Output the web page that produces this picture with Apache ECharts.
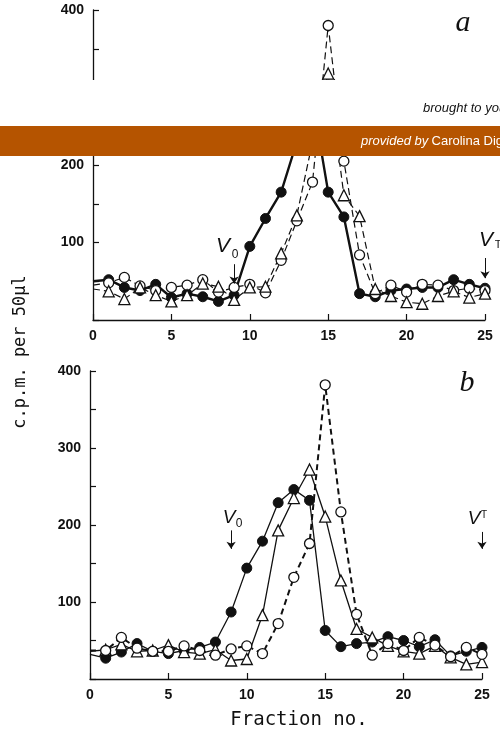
<!DOCTYPE html>
<html>
<head>
<meta charset="utf-8">
<script src="https://cdn.jsdelivr.net/npm/echarts@6/dist/echarts.min.js"></script>
<style>
html, body { margin: 0; padding: 0; background: #fff; }
#main { width: 500px; height: 731px; }
</style>
</head>
<body>
<div id="main"></div>
<script>
// fraction numbers (0 = line start at the axis, no marker)
var fractions = [0,1,2,3,4,5,6,7,8,9,10,11,12,13,14,15,16,17,18,19,20,21,22,23,24,25];

// panel a
var aFilled = [50,52,42,38,46,29,34,30,24,32,95,131,165,230,285,165,133,34,30,38,40,42,42,52,46,41];
var aOpen   = [45,48,55,44,38,42,45,52,36,42,46,35,77,128,178,380,205,84,34,45,36,46,45,38,41,38];
var aTri    = [40,37,27,42,32,24,32,47,43,26,42,43,86,135,230,318,161,134,40,31,23,21,31,37,29,34];

// panel b
var bFilled = [32,27,35,46,36,33,37,41,48,87,144,179,229,246,232,63,42,46,48,55,50,42,51,30,36,41];
var bOpen   = [37,37,54,40,36,36,43,37,31,39,43,33,72,132,176,382,217,84,31,46,37,54,44,29,41,32];
var bTri    = [36,38,45,36,37,44,35,33,38,24,26,83,193,235,272,211,128,65,54,43,36,33,43,28,19,22];

var yTicks = [100,200,300,400];

var ink = '#111';
var chart = echarts.init(document.getElementById('main'), null, { renderer: 'canvas' });

function pts(vals) {
  return vals.map(function (v, i) {
    var d = { value: [fractions[i], v] };
    if (i === 0) d.symbol = 'none';
    return d;
  });
}

function line(vals, gi, kind, lw, dash) {
  var s = {
    type: 'line',
    xAxisIndex: gi, yAxisIndex: gi,
    data: pts(vals),
    symbol: kind === 'tri' ? 'triangle' : 'circle',
    symbolSize: kind === 'tri' ? 11 : 10,
    showAllSymbol: true,
    animation: false,
    lineStyle: { color: ink, width: lw, type: dash ? dash : 'solid' },
    itemStyle: kind === 'filled'
      ? { color: ink, borderColor: ink, borderWidth: 1 }
      : { color: '#fff', borderColor: ink, borderWidth: 1.3 },
    emphasis: { disabled: true },
    z: kind === 'filled' ? 3 : 4
  };
  return s;
}

function xAx(gi) {
  return {
    type: 'value', gridIndex: gi, min: 0, max: 25, interval: 5,
    axisLine: { lineStyle: { color: ink, width: 1.3 } },
    axisTick: { inside: true, length: 6, lineStyle: { color: ink, width: 1.2 } },
    splitLine: { show: false },
    axisLabel: { color: ink, fontSize: 14, fontWeight: 'bold', fontFamily: 'Liberation Sans', margin: 9 }
  };
}
function yAx(gi) {
  return {
    type: 'value', gridIndex: gi, min: 0, max: 400, interval: 50,
    axisLine: { show: true, lineStyle: { color: ink, width: 1.3 } },
    axisTick: { inside: true, length: 6, lineStyle: { color: ink, width: 1.2 } },
    splitLine: { show: false },
    axisLabel: {
      color: ink, fontSize: 14, fontWeight: 'bold', fontFamily: 'Liberation Sans', margin: 9,
      formatter: function (v) { return yTicks.indexOf(v) >= 0 ? String(v) : ''; }
    }
  };
}

// V0 / VT arrows
function arrows(gi, v0, vt) {
  return {
    silent: true, symbol: ['none', 'arrow'], symbolSize: 7,
    lineStyle: { color: ink, width: 1, type: 'solid' },
    label: { show: false },
    animation: false,
    data: [
      [{ coord: [9, v0[0]] }, { coord: [9, v0[1]] }],
      [{ coord: [25, vt[0]] }, { coord: [25, vt[1]] }]
    ]
  };
}

var sA1 = line(aFilled, 0, 'filled', 2.4);
sA1.markLine = arrows(0, [72, 47], [80, 54]);
var sB1 = line(bFilled, 1, 'filled', 1.3);
sB1.markLine = arrows(1, [193, 169], [191, 169]);

chart.setOption({
  backgroundColor: '#fff',
  animation: false,
  grid: [
    { left: 93, right: 15, top: 10, bottom: 411 },
    { left: 90, right: 18, top: 371, bottom: 52 }
  ],
  xAxis: [xAx(0), xAx(1)],
  yAxis: [yAx(0), yAx(1)],
  series: [
    sA1,
    line(aOpen, 0, 'open', 1.2, [7, 4]),
    line(aTri, 0, 'tri', 1.2, [7, 4]),
    sB1,
    line(bTri, 1, 'tri', 1.3),
    line(bOpen, 1, 'open', 2, [6, 4])
  ]
});

// annotation text placed from the axes
var pa0 = chart.convertToPixel({ gridIndex: 0 }, [9, 72]);
var paT = chart.convertToPixel({ gridIndex: 0 }, [25, 80]);
var pb0 = chart.convertToPixel({ gridIndex: 1 }, [9, 193]);
var pbT = chart.convertToPixel({ gridIndex: 1 }, [25, 191]);

function txt(x, y, s, font, extra) {
  var st = { x: x, y: y, text: s, font: font, fill: ink, align: 'center', verticalAlign: 'middle' };
  if (extra) for (var k in extra) st[k] = extra[k];
  return { type: 'text', silent: true, style: st, z: 10 };
}

chart.setOption({
  graphic: [
    // panel letters
    txt(463, 23, 'a', 'italic 30px "Liberation Serif"'),
    txt(467, 383, 'b', 'italic 30px "Liberation Serif"'),
    // V0, VT
    txt(pa0[0] - 11, pa0[1] - 18, 'V', 'italic 21px "Liberation Sans"'),
    txt(pa0[0] + 1, pa0[1] - 10, '0', '12px "Liberation Sans"'),
    txt(paT[0] + 1, paT[1] - 18, 'V', 'italic 21px "Liberation Sans"'),
    txt(paT[0] + 13, paT[1] - 13, 'T', '11px "Liberation Sans"'),
    txt(pb0[0] - 2, pb0[1] - 13, 'V', 'italic 19px "Liberation Sans"'),
    txt(pb0[0] + 8, pb0[1] - 7, '0', '12px "Liberation Sans"'),
    txt(pbT[0] - 8, pbT[1] - 13, 'V', 'italic 19px "Liberation Sans"'),
    txt(pbT[0] + 2, pbT[1] - 17, 'T', '10px "Liberation Sans"'),
    // axis titles
    {
      type: 'text', silent: true, x: 21, y: 352, rotation: Math.PI / 2, z: 10,
      style: { x: 0, y: 0, text: 'c.p.m. per 50\u03bcl', font: '17px "DejaVu Sans Mono"', fill: ink, align: 'center', verticalAlign: 'middle' }
    },
    txt(299, 720, 'Fraction no.', '19px "DejaVu Sans Mono"'),
    // repository overlay across the top panel
    { type: 'rect', silent: true, z: 20, shape: { x: 0, y: 80, width: 500, height: 46 }, style: { fill: '#fff' } },
    { type: 'rect', silent: true, z: 21, shape: { x: 0, y: 126, width: 500, height: 30 }, style: { fill: '#b55400' } },
    {
      type: 'text', silent: true, z: 22,
      style: { x: 423, y: 108, text: 'brought to you by CORE', font: 'italic 13px "Liberation Sans"', fill: '#111', align: 'left', verticalAlign: 'middle' }
    },
    {
      type: 'text', silent: true, z: 22,
      style: {
        x: 361, y: 141, text: '{i|provided by} {n|Carolina Digital Repository}', align: 'left', verticalAlign: 'middle',
        rich: {
          i: { font: 'italic 13px "Liberation Sans"', fill: '#fff', color: '#fff' },
          n: { font: '13px "Liberation Sans"', fill: '#fff', color: '#fff' }
        },
        fill: '#fff'
      }
    }
  ]
});
</script>
</body>
</html>
